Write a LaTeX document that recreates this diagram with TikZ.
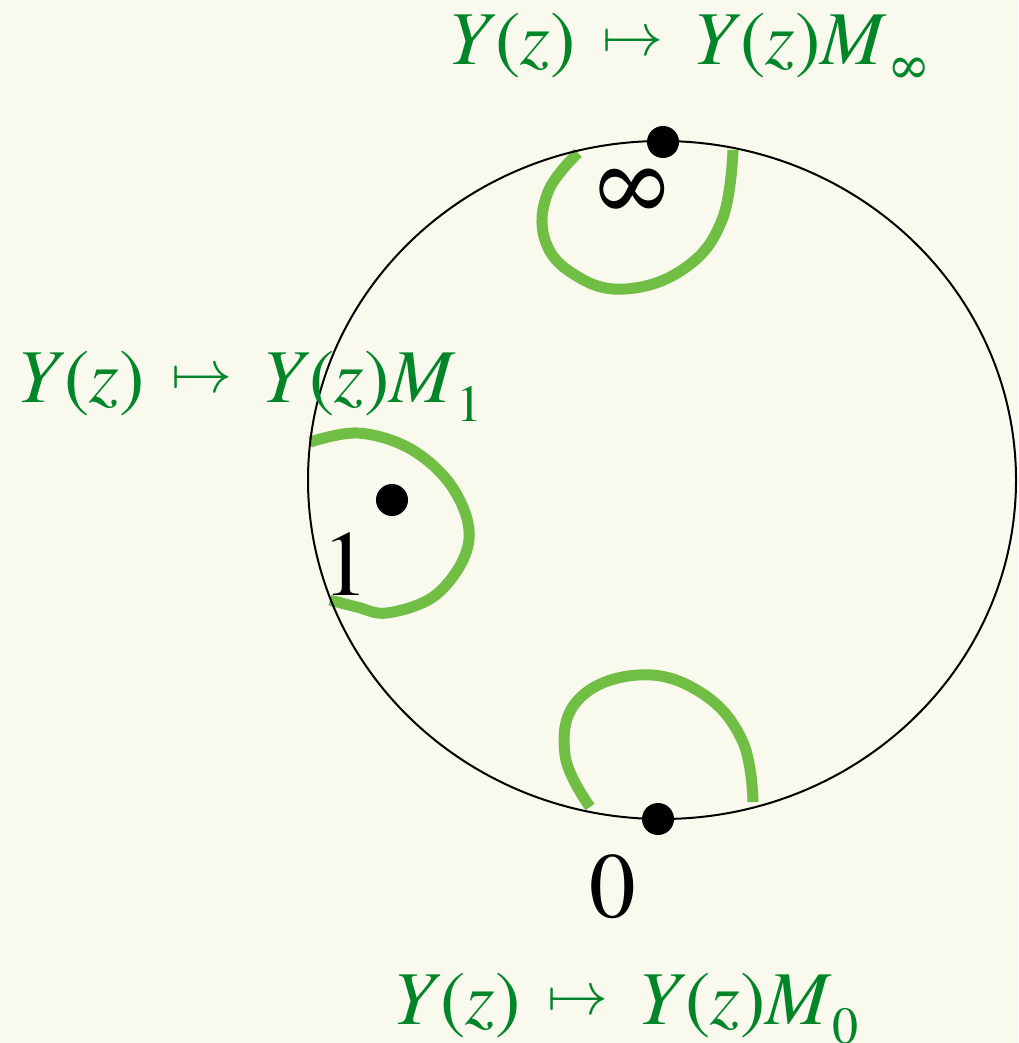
\documentclass[tikz,border=0pt]{standalone}
\usepackage{fontspec}
\setmainfont{texgyretermes}[Extension=.otf, UprightFont=*-regular, ItalicFont=*-italic, BoldFont=*-bold, BoldItalicFont=*-bolditalic]
\usepackage{graphicx}
\usetikzlibrary{shapes.geometric}
\definecolor{bgcol}{RGB}{249,249,238}
\definecolor{txtgreen}{RGB}{0,133,40}
\definecolor{arcgreen}{RGB}{112,191,68}
\newcommand\maparrow{\raisebox{0.12em}{\resizebox{0.8em}{!}{\normalsize$\mapsto$}}}
\newcommand\maplab[1]{\textit{Y}(\textit{z})\hspace{0.36em}\maparrow\hspace{0.38em}\textit{Y}(\textit{z})\textit{M}\raisebox{-0.25em}{\fontsize{52}{60}\selectfont #1}}
\tikzset{
  maplabel/.style={anchor=base west, inner sep=0pt, text=txtgreen, font=\fontsize{76}{90}\selectfont},
  ptlabel/.style={anchor=base west, inner sep=0pt, font=\fontsize{93}{110}\selectfont},
  loop/.style={draw=arcgreen, line width=11pt},
  dot/.style={circle, fill=black, inner sep=0pt, minimum size=32pt}
}
\begin{document}
\begin{tikzpicture}[x=1pt,y=-1pt]
\fill[bgcol] (0,0) rectangle (1018,1043);
\useasboundingbox (0,0) rectangle (1018,1043);
% green loops
\draw[loop] plot[smooth, tension=0.7] coordinates {(578,153) (548,192) (545,240) (575,275) (625,289) (685,268) (722,220) (733,150)};
\draw[loop] plot[smooth, tension=0.6] coordinates {(310,442) (357,433) (407,447) (447,480) (468,523) (463,560) (433,597) (387,613) (357,607) (330,600)};
\draw[loop] plot[smooth, tension=0.7] coordinates {(590,807) (565,755) (578,700) (638,675) (700,692) (742,740) (753,802)};
% sphere
\node[draw=black, line width=2pt, ellipse, minimum width=708pt, minimum height=678pt, inner sep=0pt] (sph) at (662,480) {};
% points
\node[dot] (pinf) at (663,142) {};
\node[dot] (pone) at (392,500) {};
\node[dot] (pzero) at (658,819) {};
% point labels
\node[ptlabel, font=\fontsize{105}{120}\selectfont, anchor=center] (linf) at (632,195) {∞};
\node[ptlabel] (lone) at (322,595) {1};
\node[ptlabel] (lzero) at (589,917) {0};
% monodromy labels
\node[maplabel] (minf) at (447,65) {\maplab{∞}};
\node[maplabel] (mone) at (16,402) {\maplab{1}};
\node[maplabel] (mzero) at (392,1024) {\maplab{0}};
\end{tikzpicture}
\end{document}
